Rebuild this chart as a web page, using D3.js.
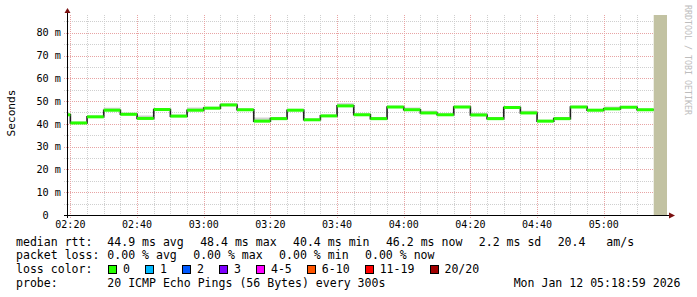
<!DOCTYPE html>
<html><head><meta charset="utf-8">
<script src="https://cdn.jsdelivr.net/npm/d3@7"></script>
<style>
body{margin:0;background:#fff}
svg{display:block}
text{font-family:"DejaVu Sans Mono",monospace;fill:#000}
</style>
</head><body>
<svg id="c" width="697" height="297"></svg>
<script>
// ---- data ----
const day = "2026-01-12";
const startTime = "02:18:59";
const endTime = "05:18:59";
const stepStarts = ["02:15","02:20","02:25","02:30","02:35","02:40","02:45","02:50","02:55",
  "03:00","03:05","03:10","03:15","03:20","03:25","03:30","03:35","03:40","03:45","03:50","03:55",
  "04:00","04:05","04:10","04:15","04:20","04:25","04:30","04:35","04:40","04:45","04:50","04:55",
  "05:00","05:05","05:10"];
const unknownStart = "05:15";
// median rtt (ms) per 5-minute step
const medianRtt = [44.0,40.4,43.1,46.0,44.2,42.4,46.3,43.4,46.0,46.9,48.3,46.2,41.2,42.3,46.0,41.8,
  43.5,47.9,44.0,42.3,47.4,46.2,44.8,44.0,47.4,43.9,42.3,47.2,44.8,41.2,42.3,47.4,46.0,46.6,47.3,46.2];
// upper edge of the smoke (ms)
const smokeHigh = [44.6,41.0,43.7,47.1,44.9,43.7,46.9,44.1,47.2,47.5,49.1,46.8,42.8,42.9,46.6,42.4,
  44.1,49.1,44.6,42.9,48.0,47.2,45.8,44.6,48.0,44.8,42.9,47.8,45.8,41.8,42.9,48.0,46.6,47.6,47.9,46.8];
const yTicks = [0,10,20,30,40,50,60,70,80];
const yTickLabels = ["0  ","10 m","20 m","30 m","40 m","50 m","60 m","70 m","80 m"];
const yMinor = [5,15,25,35,45,55,65,75,85];
const yMax = 87.8;
const xTickLabels = ["02:20","02:40","03:00","03:20","03:40","04:00","04:20","04:40","05:00"];
const lossLabels = ["0","1","2","3","4-5","6-10","11-19","20/20"];
const lossColors = ["#26ff00","#00b8ff","#0059ff","#7e00ff","#ff00ff","#ff5500","#ff0000","#a10000"];
const rttLegend = ["44.9 ms avg","48.4 ms max","40.4 ms min","46.2 ms now","2.2 ms sd","20.4   am/s"];
const lossLegend = ["0.00 % avg","0.00 % max","0.00 % min","0.00 % now"];
const probeText = "20 ICMP Echo Pings (56 Bytes) every 300s";
const dateText = "Mon Jan 12 05:18:59 2026";
const yTitle = "Seconds";
const watermark = "RRDTOOL / TOBI OETIKER";

// ---- drawing ----
const svg = d3.select("#c");
const T = s => new Date(day + "T" + (s.length === 5 ? s + ":00" : s));
const t0 = T(startTime), t1 = T(endTime);
const L = 67, R = 667, B = 215, TOP = 15;
const x = d3.scaleTime().domain([t0, t1]).range([L, R]);
const y = d3.scaleLinear().domain([0, yMax]).range([B, TOP]);
const cx = t => Math.max(L, Math.min(R, x(t)));

const grid = svg.append("g").attr("shape-rendering","crispEdges");
yMinor.forEach(v => grid.append("line").attr("x1",L-3).attr("x2",R+1)
  .attr("y1",Math.round(y(v))+0.5).attr("y2",Math.round(y(v))+0.5)
  .attr("stroke","#cfcfcf").attr("stroke-dasharray","1,1"));
const minorTimes = d3.timeMinute.every(5).range(t0, t1);
minorTimes.forEach(t => grid.append("line").attr("y1",TOP).attr("y2",B+2)
  .attr("x1",Math.round(x(t))+0.5).attr("x2",Math.round(x(t))+0.5)
  .attr("stroke","#cfcfcf").attr("stroke-dasharray","1,1"));
yTicks.forEach(v => { if (v === 0) return; grid.append("line").attr("x1",L-3).attr("x2",R+1)
  .attr("y1",Math.round(y(v))+0.5).attr("y2",Math.round(y(v))+0.5)
  .attr("stroke","#e8a4a4").attr("stroke-dasharray","1,1"); });
xTickLabels.forEach(s => { const xx = Math.round(x(T(s)))+0.5;
  grid.append("line").attr("y1",TOP).attr("y2",B+3).attr("x1",xx).attr("x2",xx)
  .attr("stroke","#e8a4a4").attr("stroke-dasharray","1,1"); });

svg.append("rect").attr("x",x(T(unknownStart))).attr("y",TOP)
  .attr("width",R - x(T(unknownStart))).attr("height",B-TOP).attr("fill","#c2c2a2");

stepStarts.forEach((s,i) => {
  const a = cx(T(s)), b = cx(d3.timeMinute.offset(T(s),5));
  svg.append("rect").attr("x",a).attr("width",b-a)
    .attr("y",y(smokeHigh[i])).attr("height",y(medianRtt[i]) - y(smokeHigh[i]))
    .attr("fill","#d2d2d2");
});

const stepData = stepStarts.map((s,i)=>({t:T(s), v:medianRtt[i]}));
stepData.push({t:T(unknownStart), v:medianRtt[medianRtt.length-1]});
const line = d3.line().curve(d3.curveStepAfter).x(d=>cx(d.t)).y(d=>y(d.v));
svg.append("path").attr("d",line(stepData)).attr("fill","none")
  .attr("stroke","#202020").attr("stroke-width",1.6);

stepStarts.forEach((s,i) => {
  const a = cx(T(s)), b = cx(d3.timeMinute.offset(T(s),5));
  svg.append("rect").attr("x",a).attr("width",b-a)
    .attr("y",y(medianRtt[i])-1.5).attr("height",3).attr("fill",lossColors[0]);
});

const ax = svg.append("g").attr("shape-rendering","crispEdges");
ax.append("line").attr("x1",L-3).attr("x2",R+3).attr("y1",B+0.5).attr("y2",B+0.5).attr("stroke","#000");
ax.append("line").attr("x1",L+0.5).attr("x2",L+0.5).attr("y1",TOP-3).attr("y2",B+3).attr("stroke","#000");
svg.append("path").attr("d",`M${L-2.5},${TOP-2} L${L+0.5},${TOP-7} L${L+3.5},${TOP-2} Z`).attr("fill","#7a1010");
svg.append("path").attr("d",`M${R+2},${B-2.5} L${R+8},${B+0.5} L${R+2},${B+3.5} Z`).attr("fill","#7a1010");

yTicks.forEach((v,i) => svg.append("text").attr("x",61).attr("y",y(v)+3.7)
  .attr("text-anchor","end").attr("xml:space","preserve").style("white-space","pre")
  .style("font-size","10.2px").text(yTickLabels[i]));
xTickLabels.forEach(s => svg.append("text").attr("x",x(T(s))).attr("y",228.3)
  .attr("text-anchor","middle").style("font-size","10px").text(s));

svg.append("text").attr("transform","translate(14.5,113) rotate(-90)")
  .attr("text-anchor","middle").style("font-size","11.2px").text(yTitle);
svg.append("text").attr("transform","translate(684.5,5) rotate(90)")
  .style("font-size","8.3px").style("fill","#bdbdbd").text(watermark);

const fs = "11.56px", cw = 6.96;
const rows = [245.6, 259.1, 273.2, 286.7];
const txt = (xx, yy, s, anchor) => svg.append("text").attr("x",xx).attr("y",yy)
  .attr("text-anchor",anchor||"start").style("font-size",fs).attr("xml:space","preserve")
  .style("white-space","pre").text(s);
txt(16, rows[0], "median rtt:");
let px = 107.3;
rttLegend.forEach(s => { txt(px, rows[0], s); px += s.length*cw + 16.3; });
txt(16, rows[1], "packet loss:");
px = 107.3;
lossLegend.forEach(s => { txt(px, rows[1], s); px += s.length*cw + 16.3; });
txt(16, rows[2], "loss color:");
px = 108.3;
lossLabels.forEach((s,i) => {
  svg.append("rect").attr("x",Math.round(px)+0.5).attr("y",265.5).attr("width",8).attr("height",8)
    .attr("fill",lossColors[i]).attr("stroke","#000").attr("shape-rendering","crispEdges");
  txt(px+14.8, rows[2], s);
  px += 14.8 + s.length*cw + 15.2;
});
txt(16, rows[3], "probe:");
txt(107.3, rows[3], probeText);
txt(680.5, rows[3], dateText, "end");
</script>
</body></html>
